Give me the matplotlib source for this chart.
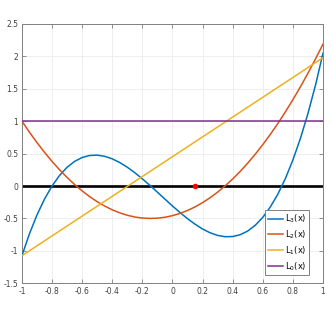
import numpy as np
import matplotlib
matplotlib.use('Agg')
import matplotlib.pyplot as plt

plt.rcParams['axes.unicode_minus'] = False

# sample points
x = np.round(np.arange(-1, 1.0001, 0.05), 2)
L3 = [-1.075, -0.737, -0.447, -0.202, 0.000, 0.163, 0.289, 0.380, 0.440, 0.471,
      0.476, 0.458, 0.419, 0.362, 0.290, 0.205, 0.111, 0.010, -0.095, -0.202,
      -0.308, -0.409, -0.504, -0.589, -0.663, -0.721, -0.762, -0.782, -0.779, -0.751,
      -0.694, -0.605, -0.483, -0.323, -0.125, 0.116, 0.402, 0.736, 1.120, 1.557,
      2.050]
L2 = [1.000, 0.830, 0.670, 0.520, 0.380, 0.251, 0.132, 0.023, -0.075, -0.164,
      -0.242, -0.309, -0.367, -0.414, -0.451, -0.478, -0.494, -0.500, -0.496, -0.482,
      -0.457, -0.422, -0.377, -0.322, -0.256, -0.180, -0.094, 0.003, 0.109, 0.226,
      0.354, 0.491, 0.639, 0.797, 0.965, 1.144, 1.332, 1.531, 1.741, 1.960,
      2.190]
x1 = [-1, 1]
L1 = [-1.075, 1.98]
L0 = [1, 1]
pt_x, pt_y = 0.15, 0

xticks = [-1, -0.8, -0.6, -0.4, -0.2, 0, 0.2, 0.4, 0.6, 0.8, 1]
xlabels = ['-1', '-0.8', '-0.6', '-0.4', '-0.2', '0', '0.2', '0.4', '0.6', '0.8', '1']
yticks = [-1.5, -1, -0.5, 0, 0.5, 1, 1.5, 2, 2.5]
ylabels = ['-1.5', '-1', '-0.5', '0', '0.5', '1', '1.5', '2', '2.5']

fig = plt.figure(figsize=(3.32, 3.19), dpi=100)
ax = fig.add_axes([0.066, 0.112, 0.907, 0.813])

ax.plot(x1, [0, 0], color='black', lw=1.9, zorder=2)
ax.plot(x, L3, color='#0072BD', lw=1.1, label='L$_3$(x)', zorder=3)
ax.plot(x, L2, color='#D95319', lw=1.1, label='L$_2$(x)', zorder=3)
ax.plot(x1, L1, color='#EDB120', lw=1.1, label='L$_1$(x)', zorder=3)
ax.plot(x1, L0, color='#7E2F8E', lw=1.1, label='L$_0$(x)', zorder=3)
ax.plot(pt_x, pt_y, 'o', color='red', ms=3, zorder=4)

ax.set_xlim(-1, 1)
ax.set_ylim(-1.5, 2.5)
ax.set_xticks(xticks)
ax.set_xticklabels(xlabels)
ax.set_yticks(yticks)
ax.set_yticklabels(ylabels)
ax.tick_params(direction='in', length=3, width=0.6, colors='#404040', labelsize=5.5,
               top=True, right=True, pad=2.5, color='#808080')
ax.grid(True, color='#ebebeb', lw=0.6)
ax.set_axisbelow(True)
for s in ax.spines.values():
    s.set_color('#808080')
    s.set_linewidth(0.7)

leg = ax.legend(loc='lower right', bbox_to_anchor=(0.955, 0.03), fontsize=6,
                frameon=True, fancybox=False, edgecolor='#808080', framealpha=1,
                handlelength=1.9, handletextpad=0.2, labelspacing=0.4,
                borderpad=0.35, borderaxespad=0)
leg.get_frame().set_linewidth(0.7)

plt.savefig('out.png', dpi=100)
